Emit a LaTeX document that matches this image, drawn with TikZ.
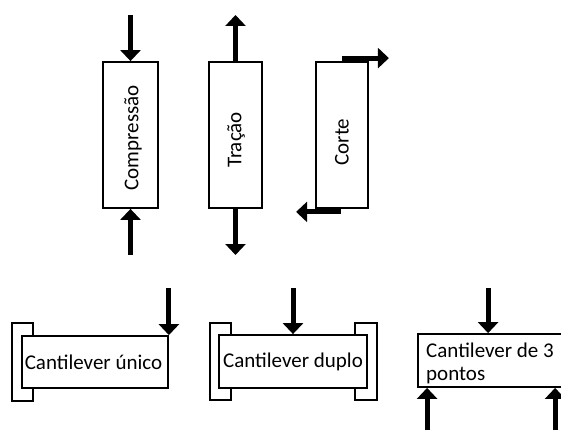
\documentclass[tikz,border=0pt]{standalone}
\usepackage{fontspec}
\setmainfont{Carlito}
\usetikzlibrary{arrows.meta,calc}
\begin{document}
\begin{tikzpicture}[x=1pt,y=-1pt,
  bar/.style={draw=black, line width=1.8pt, fill=white, inner sep=0pt},
  wall/.style={draw=black, line width=1.3pt, fill=white, inner sep=0pt},
  force/.style={line width=5pt, -{Triangle[width=20pt,length=11pt]}},
  lbl/.style={font=\fontsize{21}{23}\selectfont, inner sep=0pt},
]
\useasboundingbox (0,0) rectangle (561,430);
\begin{scope}
\clip (0,0) rectangle (561,430);

% --- loading modes on vertical specimens ---
\node[bar, minimum width=55pt, minimum height=146pt] (comp) at (130.5,135) {};
\node[bar, minimum width=53pt, minimum height=146pt] (trac) at (235.5,135) {};
\node[bar, minimum width=52pt, minimum height=146pt] (cort) at (342,135) {};
\node[lbl, rotate=90] (tcomp) at (133,138) {Compressão};
\node[lbl, rotate=90] (ttrac) at (236,140) {Tração};
\node[lbl, rotate=90] (tcort) at (342,142) {Corte};

\coordinate (c1) at (comp.north |- 0,15);
\coordinate (c2) at (comp.south |- 0,255);
\draw[force] (c1) -- (comp.north);
\draw[force] (c2) -- (comp.south);

\coordinate (r1) at (trac.north |- 0,15);
\coordinate (r2) at (trac.south |- 0,255);
\draw[force] (trac.north) -- (r1);
\draw[force] (trac.south) -- (r2);

\coordinate (s1a) at ($(cort.north east)+(-27,-3)$);
\coordinate (s1b) at ($(cort.north east)+(20,-3)$);
\coordinate (s2a) at ($(cort.south west)+(26,3)$);
\coordinate (s2b) at ($(cort.south west)+(-19,3)$);
\draw[force] (s1a) -- (s1b);
\draw[force] (s2a) -- (s2b);

% --- bending tests ---
% single cantilever
\node[wall, minimum width=21pt, minimum height=78pt] (w1) at (22.5,362) {};
\node[bar, minimum width=146pt, minimum height=52pt] (b1) at (95,362) {};
\node[lbl] (tb1) at (93.5,362) {Cantilever único};
\coordinate (f1) at (b1.north east |- 0,288);
\draw[force] (f1) -- (b1.north east);

% dual cantilever
\node[wall, minimum width=21pt, minimum height=77pt] (w2a) at (220.5,361.5) {};
\node[wall, minimum width=22pt, minimum height=77pt] (w2b) at (366,361.5) {};
\node[bar, minimum width=148pt, minimum height=53pt] (b2) at (293,361.5) {};
\node[lbl] (tb2) at (293,361.5) {Cantilever duplo};
\coordinate (f2) at (b2.north |- 0,288);
\draw[force] (f2) -- (b2.north);

% three-point bending (the beam runs on past the right edge)
\node[bar, minimum width=160pt, minimum height=53pt] (b3) at (498,360.5) {};
\node[lbl, anchor=base west] (tb3a) at (426,357) {Cantilever de 3};
\node[lbl, anchor=base west] (tb3b) at (426,380) {pontos};
\coordinate (n3) at ($(b3.north west)+(71,0)$);
\coordinate (f3) at (n3 |- 0,288);
\draw[force] (f3) -- (n3);
\coordinate (p1) at ($(b3.south west)+(10,0)$);
\coordinate (p2) at ($(b3.south west)+(138,0)$);
\coordinate (q1) at (p1 |- 0,430);
\coordinate (q2) at (p2 |- 0,430);
\draw[force] (q1) -- (p1);
\draw[force] (q2) -- (p2);
\end{scope}
\end{tikzpicture}
\end{document}
